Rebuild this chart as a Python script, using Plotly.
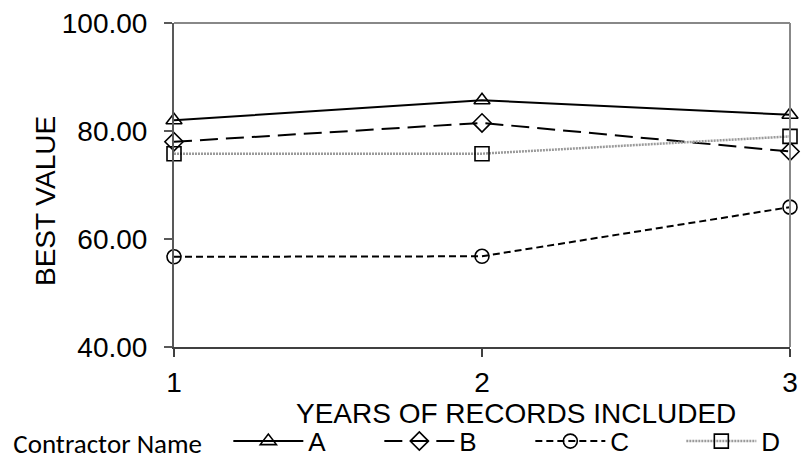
import plotly.graph_objects as go

years = [1, 2, 3]
series_names = ["A", "B", "C", "D"]
values_a = [82.0, 85.7, 83.0]
values_b = [78.0, 81.5, 76.2]
values_c = [56.7, 56.8, 65.9]
values_d = [75.8, 75.8, 79.0]
y_ticks = [40, 60, 80, 100]
x_ticks = [1, 2, 3]

ARIAL = "Arial, 'Liberation Sans', sans-serif"
CAL = "Carlito, Calibri, Lato, sans-serif"

styles = {
    "A": dict(line=dict(color="black", width=2), symbol="triangle-up-open", size=14),
    "B": dict(line=dict(color="black", width=2, dash="18px,8px"), symbol="diamond-open", size=14),
    "C": dict(line=dict(color="black", width=2, dash="7px,4px"), symbol="circle-open", size=14),
    "D": dict(line=dict(color="#9a9a9a", width=2.5, dash="2px,1px"), symbol="square-open", size=14),
}
data = {"A": values_a, "B": values_b, "C": values_c, "D": values_d}

fig = go.Figure()
for name in series_names:
    st = styles[name]
    fig.add_trace(go.Scatter(
        x=years, y=data[name], name=name, mode="lines+markers",
        line=st["line"], cliponaxis=False,
        marker=dict(symbol=st["symbol"], size=st["size"], color="black",
                    line=dict(color="black", width=1.6)),
    ))

fig.update_layout(
    width=806, height=459,
    margin=dict(l=174, r=8, t=20, b=112),
    paper_bgcolor="white", plot_bgcolor="white",
    font=dict(family=ARIAL, size=28, color="black"),
    showlegend=True,
    legend=dict(
        orientation="h", xref="container", yref="container",
        x=0.014, y=0.090, xanchor="left", yanchor="top",
        title=dict(text="Contractor Name&nbsp;&nbsp;&nbsp;", side="left",
                   font=dict(family=CAL, size=27)),
        font=dict(family=ARIAL, size=26), itemwidth=70, entrywidth=66,
        bgcolor="rgba(0,0,0,0)",
    ),
    xaxis=dict(
        range=[1, 3], tickvals=x_ticks, showgrid=False, zeroline=False,
        showline=True, linecolor="#404040", linewidth=1.5,
        ticks="outside", ticklen=8, tickcolor="#404040", tickwidth=1.5,
        ticklabelstandoff=2,
    ),
    yaxis=dict(
        range=[40, 100], tickvals=y_ticks, tickformat=".2f", showgrid=False, zeroline=False,
        showline=True, linecolor="#595959", linewidth=2,
        ticks="outside", ticklen=8, tickcolor="#595959", tickwidth=1.5,
        ticklabelstandoff=11,
    ),
    shapes=[
        dict(type="line", xref="paper", yref="paper", x0=0, x1=1, y0=1, y1=1,
             line=dict(color="#888888", width=2)),
        dict(type="line", xref="paper", yref="paper", x0=1, x1=1, y0=0, y1=1,
             line=dict(color="#888888", width=2)),
    ],
    annotations=[
        dict(text="BEST VALUE", xref="paper", yref="paper", x=-0.2083, y=0.4495,
             textangle=-90, showarrow=False, font=dict(family=ARIAL, size=28),
             xanchor="center", yanchor="middle"),
        dict(text="YEARS OF RECORDS INCLUDED", xref="paper", yref="paper", x=0.5545, y=-0.206,
             showarrow=False, font=dict(family=ARIAL, size=28),
             xanchor="center", yanchor="middle"),
    ],
)

fig.write_html("out.html")
